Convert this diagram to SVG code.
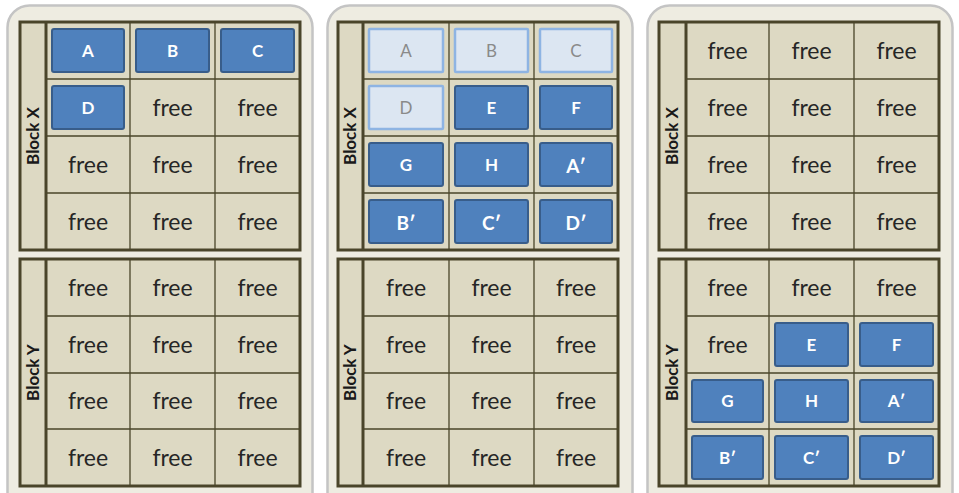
<svg xmlns="http://www.w3.org/2000/svg" width="959" height="493" viewBox="0 0 959 493">
<defs>
<style>
.panel{fill:#eeece1;stroke:#c4c4c4;stroke-width:2.5}
.blk{fill:#ddd9c3;stroke:#4a452a;stroke-width:3}
.grid{stroke:#4a452a;stroke-width:1.3;fill:none}
.lab{font-family:Lato,"Liberation Sans",sans-serif;font-size:17px;font-weight:bold;fill:#1a1a1a;text-anchor:middle}
.free{font-family:Lato,"Liberation Sans",sans-serif;font-size:23px;fill:#262626;text-anchor:middle}
.bx{fill:#4f81bd;stroke:#385d8a;stroke-width:2}
.bt{font-family:Lato,"Liberation Sans",sans-serif;font-size:17px;font-weight:bold;fill:#fff;text-anchor:middle}
.fx{fill:#dce6f2;stroke:#8eb4e3;stroke-width:2.5}
.ft{font-family:Lato,"Liberation Sans",sans-serif;font-size:17px;fill:#8a8a8a;text-anchor:middle}
</style>
</defs>
<rect width="959" height="493" fill="#ffffff"/>

<!-- Panel 1 -->
<g id="panel1">
<rect class="panel" x="7.5" y="5.5" width="305" height="510" rx="22"/>
<g id="p1-blockX">
<rect class="blk" x="20" y="22" width="280" height="228"/>
<path class="grid" d="M130 22V250M215 22V250M46 79H300M46 136H300M46 193H300"/>
<path class="grid" d="M46 22V250" style="stroke-width:3"/>
<text class="lab" transform="translate(39,136) rotate(-90)">Block X</text>
</g>
<g id="p1-blockY">
<rect class="blk" x="20" y="259" width="280" height="227"/>
<path class="grid" d="M130 259V486M215 259V486M46 316H300M46 373H300M46 429H300"/>
<path class="grid" d="M46 259V486" style="stroke-width:3"/>
<text class="lab" transform="translate(39,372.5) rotate(-90)">Block Y</text>
</g>
<g id="p1-A"><rect class="bx" x="52" y="29" width="72" height="43" rx="2"/><text class="bt" x="88" y="56.5">A</text></g>
<g id="p1-B"><rect class="bx" x="136" y="29" width="73" height="43" rx="2"/><text class="bt" x="172.5" y="56.5">B</text></g>
<g id="p1-C"><rect class="bx" x="221" y="29" width="73" height="43" rx="2"/><text class="bt" x="257.5" y="56.5">C</text></g>
<g id="p1-D"><rect class="bx" x="52" y="86" width="72" height="43" rx="2"/><text class="bt" x="88" y="113.5">D</text></g>
<g id="p1-freeX">
<text class="free" x="172.5" y="115.5">free</text><text class="free" x="257.5" y="115.5">free</text>
<text class="free" x="88" y="172.5">free</text><text class="free" x="172.5" y="172.5">free</text><text class="free" x="257.5" y="172.5">free</text>
<text class="free" x="88" y="229.5">free</text><text class="free" x="172.5" y="229.5">free</text><text class="free" x="257.5" y="229.5">free</text>
</g>
<g id="p1-freeY">
<text class="free" x="88" y="295.5">free</text><text class="free" x="172.5" y="295.5">free</text><text class="free" x="257.5" y="295.5">free</text>
<text class="free" x="88" y="352.5">free</text><text class="free" x="172.5" y="352.5">free</text><text class="free" x="257.5" y="352.5">free</text>
<text class="free" x="88" y="409">free</text><text class="free" x="172.5" y="409">free</text><text class="free" x="257.5" y="409">free</text>
<text class="free" x="88" y="465.5">free</text><text class="free" x="172.5" y="465.5">free</text><text class="free" x="257.5" y="465.5">free</text>
</g>
</g>

<!-- Panel 2 -->
<g id="panel2">
<rect class="panel" x="327.5" y="5.5" width="305" height="510" rx="22"/>
<g id="p2-blockX">
<rect class="blk" x="338" y="22" width="280" height="228"/>
<path class="grid" d="M449 22V250M534 22V250M363 79H618M363 136H618M363 193H618"/>
<path class="grid" d="M363 22V250" style="stroke-width:3"/>
<text class="lab" transform="translate(356,136) rotate(-90)">Block X</text>
</g>
<g id="p2-blockY">
<rect class="blk" x="338" y="259" width="280" height="227"/>
<path class="grid" d="M449 259V486M534 259V486M363 316H618M363 373H618M363 429H618"/>
<path class="grid" d="M363 259V486" style="stroke-width:3"/>
<text class="lab" transform="translate(356,372.5) rotate(-90)">Block Y</text>
</g>
<g id="p2-A"><rect class="fx" x="369" y="29" width="74" height="43" rx="1"/><text class="ft" x="406" y="56.5">A</text></g>
<g id="p2-B"><rect class="fx" x="455" y="29" width="73" height="43" rx="1"/><text class="ft" x="491.5" y="56.5">B</text></g>
<g id="p2-C"><rect class="fx" x="540" y="29" width="72" height="43" rx="1"/><text class="ft" x="576" y="56.5">C</text></g>
<g id="p2-D"><rect class="fx" x="369" y="86" width="74" height="43" rx="1"/><text class="ft" x="406" y="113.5">D</text></g>
<g id="p2-E"><rect class="bx" x="455" y="86" width="73" height="43" rx="2"/><text class="bt" x="491.5" y="113.5">E</text></g>
<g id="p2-F"><rect class="bx" x="540" y="86" width="72" height="43" rx="2"/><text class="bt" x="576" y="113.5">F</text></g>
<g id="p2-G"><rect class="bx" x="369" y="143" width="74" height="43" rx="2"/><text class="bt" x="406" y="170.5">G</text></g>
<g id="p2-H"><rect class="bx" x="455" y="143" width="73" height="43" rx="2"/><text class="bt" x="491.5" y="170.5">H</text></g>
<g id="p2-A2"><rect class="bx" x="540" y="143" width="72" height="43" rx="2"/><text class="bt" x="576" y="172.5" style="font-size:19px">A′</text></g>
<g id="p2-B2"><rect class="bx" x="369" y="200" width="74" height="43" rx="2"/><text class="bt" x="406" y="229.5" style="font-size:19px">B′</text></g>
<g id="p2-C2"><rect class="bx" x="455" y="200" width="73" height="43" rx="2"/><text class="bt" x="491.5" y="229.5" style="font-size:19px">C′</text></g>
<g id="p2-D2"><rect class="bx" x="540" y="200" width="72" height="43" rx="2"/><text class="bt" x="576" y="229.5" style="font-size:19px">D′</text></g>
<g id="p2-freeY">
<text class="free" x="406" y="295.5">free</text><text class="free" x="491.5" y="295.5">free</text><text class="free" x="576" y="295.5">free</text>
<text class="free" x="406" y="352.5">free</text><text class="free" x="491.5" y="352.5">free</text><text class="free" x="576" y="352.5">free</text>
<text class="free" x="406" y="409">free</text><text class="free" x="491.5" y="409">free</text><text class="free" x="576" y="409">free</text>
<text class="free" x="406" y="465.5">free</text><text class="free" x="491.5" y="465.5">free</text><text class="free" x="576" y="465.5">free</text>
</g>
</g>

<!-- Panel 3 -->
<g id="panel3">
<rect class="panel" x="647.5" y="5.5" width="305" height="510" rx="22"/>
<g id="p3-blockX">
<rect class="blk" x="659" y="22" width="280" height="228"/>
<path class="grid" d="M769 22V250M854 22V250M686 79H939M686 136H939M686 193H939"/>
<path class="grid" d="M686 22V250" style="stroke-width:3"/>
<text class="lab" transform="translate(678,136) rotate(-90)">Block X</text>
</g>
<g id="p3-blockY">
<rect class="blk" x="659" y="259" width="280" height="227"/>
<path class="grid" d="M769 259V486M854 259V486M686 316H939M686 373H939M686 429H939"/>
<path class="grid" d="M686 259V486" style="stroke-width:3"/>
<text class="lab" transform="translate(678,372.5) rotate(-90)">Block Y</text>
</g>
<g id="p3-freeX">
<text class="free" x="727.5" y="58.5">free</text><text class="free" x="811.5" y="58.5">free</text><text class="free" x="896.5" y="58.5">free</text>
<text class="free" x="727.5" y="115.5">free</text><text class="free" x="811.5" y="115.5">free</text><text class="free" x="896.5" y="115.5">free</text>
<text class="free" x="727.5" y="172.5">free</text><text class="free" x="811.5" y="172.5">free</text><text class="free" x="896.5" y="172.5">free</text>
<text class="free" x="727.5" y="229.5">free</text><text class="free" x="811.5" y="229.5">free</text><text class="free" x="896.5" y="229.5">free</text>
</g>
<g id="p3-freeY">
<text class="free" x="727.5" y="295.5">free</text><text class="free" x="811.5" y="295.5">free</text><text class="free" x="896.5" y="295.5">free</text>
<text class="free" x="727.5" y="352.5">free</text>
</g>
<g id="p3-E"><rect class="bx" x="775" y="323" width="73" height="43" rx="2"/><text class="bt" x="811.5" y="350.5">E</text></g>
<g id="p3-F"><rect class="bx" x="860" y="323" width="73" height="43" rx="2"/><text class="bt" x="896.5" y="350.5">F</text></g>
<g id="p3-G"><rect class="bx" x="692" y="380" width="71" height="42" rx="2"/><text class="bt" x="727.5" y="407">G</text></g>
<g id="p3-H"><rect class="bx" x="775" y="380" width="73" height="42" rx="2"/><text class="bt" x="811.5" y="407">H</text></g>
<g id="p3-A2"><rect class="bx" x="860" y="380" width="73" height="42" rx="2"/><text class="bt" x="896.5" y="407">A′</text></g>
<g id="p3-B2"><rect class="bx" x="692" y="436" width="71" height="43" rx="2"/><text class="bt" x="727.5" y="463.5">B′</text></g>
<g id="p3-C2"><rect class="bx" x="775" y="436" width="73" height="43" rx="2"/><text class="bt" x="811.5" y="463.5">C′</text></g>
<g id="p3-D2"><rect class="bx" x="860" y="436" width="73" height="43" rx="2"/><text class="bt" x="896.5" y="463.5">D′</text></g>
</g>
<g id="connectors"></g>
</svg>
